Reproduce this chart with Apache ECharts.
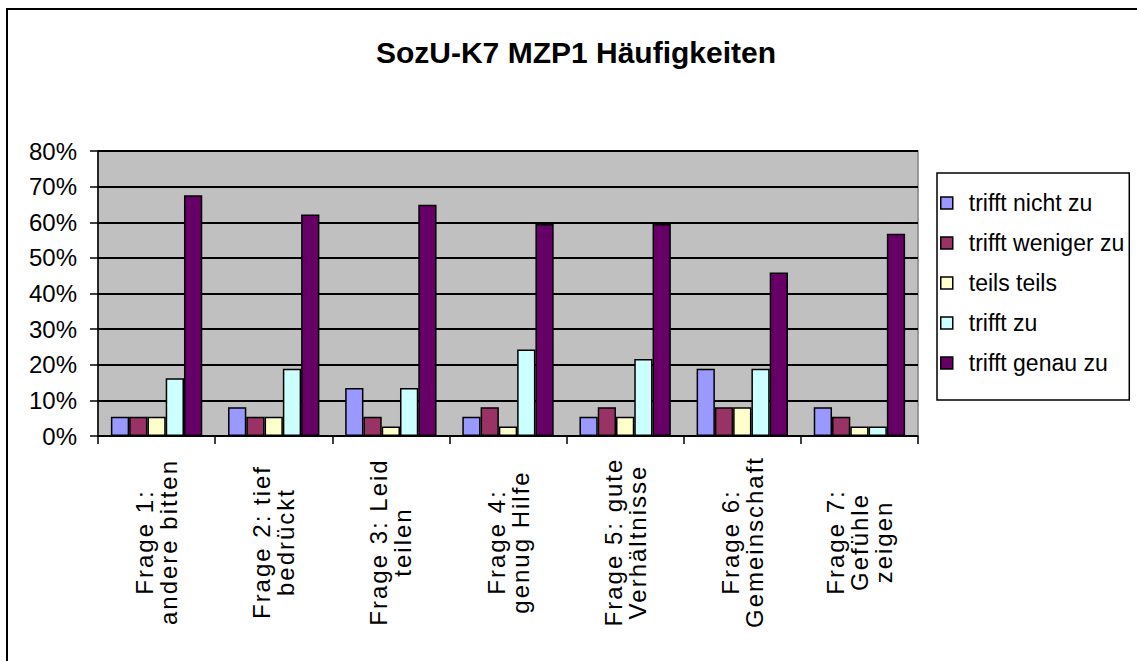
<!DOCTYPE html>
<html>
<head>
<meta charset="utf-8">
<script src="https://cdn.jsdelivr.net/npm/echarts@6/dist/echarts.min.js"></script>
<style>
  html, body { margin: 0; padding: 0; background: #fff; }
  #chart { width: 1137px; height: 661px; }
  #chart text[style*="Arimo"] { letter-spacing: 2px; }
</style>
</head>
<body>
<div id="chart"></div>
<script>
// ---- data (percent values) ----
const categories = [
  'Frage 1:\nandere bitten',
  'Frage 2: tief\nbedrückt',
  'Frage 3: Leid\nteilen',
  'Frage 4:\ngenug Hilfe',
  'Frage 5: gute\nVerhältnisse',
  'Frage 6:\nGemeinschaft',
  'Frage 7:\nGefühle\nzeigen'
];
const seriesNames = ['trifft nicht zu', 'trifft weniger zu', 'teils teils', 'trifft zu', 'trifft genau zu'];
const trifftNichtZu   = [5.4, 8.1, 13.5, 5.4, 5.4, 18.9, 8.1];
const trifftWenigerZu = [5.4, 5.4, 5.4, 8.1, 8.1, 8.1, 5.4];
const teilsTeils      = [5.4, 5.4, 2.7, 2.7, 5.4, 8.1, 2.7];
const trifftZu        = [16.2, 18.9, 13.5, 24.3, 21.6, 18.9, 2.7];
const trifftGenauZu   = [67.6, 62.2, 64.9, 59.5, 59.5, 45.9, 56.8];
const yTicks = [0, 10, 20, 30, 40, 50, 60, 70, 80];

const seriesValues = [trifftNichtZu, trifftWenigerZu, teilsTeils, trifftZu, trifftGenauZu];
const colors = ['#9999FF', '#993366', '#FFFFCC', '#CCFFFF', '#660066'];

const chart = echarts.init(document.getElementById('chart'), null, { renderer: 'svg' });

const option = {
  animation: false,
  backgroundColor: '#ffffff',
  title: {
    text: 'SozU-K7 MZP1 Häufigkeiten',
    left: 571,
    textAlign: 'center',
    top: 32,
    textStyle: { fontFamily: 'Liberation Sans', fontWeight: 'bold', fontSize: 30, color: '#000' }
  },
  legend: {
    orient: 'vertical',
    left: 937,
    top: 173,
    padding: [18, 5, 25, 3],
    borderColor: '#000',
    borderWidth: 1.5,
    itemWidth: 12,
    itemHeight: 12,
    itemGap: 16,
    icon: 'rect',
    itemStyle: { borderColor: '#000', borderWidth: 1.5 },
    textStyle: { fontFamily: 'Liberation Sans', fontSize: 23, lineHeight: 24, color: '#000', padding: [0, 0, 0, 11] },
    data: seriesNames
  },
  grid: {
    left: 98, right: 219, top: 151, bottom: 225,
    show: true,
    backgroundColor: '#C0C0C0',
    borderColor: '#808080',
    borderWidth: 1.5
  },
  xAxis: {
    type: 'category',
    data: categories,
    axisLine: { lineStyle: { color: '#000', width: 1.5 } },
    axisTick: { show: true, length: 8, lineStyle: { color: '#000', width: 1.5 } },
    axisLabel: {
      interval: 0,
      rotate: 90,
      align: 'center',
      verticalAlign: 'middle',
      margin: 106,
      fontFamily: 'Liberation Sans, Arimo, Arial',
      fontSize: 24,
      lineHeight: 24,
      color: '#000'
    }
  },
  yAxis: {
    type: 'value',
    min: yTicks[0],
    max: yTicks[yTicks.length - 1],
    interval: yTicks[1] - yTicks[0],
    axisLine: { show: true, lineStyle: { color: '#000', width: 1.5 } },
    axisTick: { show: true, length: 8, lineStyle: { color: '#000', width: 1.5 } },
    splitLine: { lineStyle: { color: '#000', width: 1.8 } },
    axisLabel: {
      margin: 21,
      fontFamily: 'Liberation Sans',
      fontSize: 24,
      color: '#000',
      formatter: v => v + '%'
    }
  },
  graphic: [{
    type: 'rect',
    z: -10,
    silent: true,
    shape: { x: 7, y: 9, width: 1300, height: 800 },
    style: { fill: 'none', stroke: '#000', lineWidth: 2 }
  }],
  series: seriesNames.map((name, i) => ({
    name: name,
    type: 'bar',
    data: seriesValues[i],
    barGap: '0%',
    barCategoryGap: '22%',
    itemStyle: { color: colors[i], borderColor: '#000', borderWidth: 1.5 }
  }))
};
chart.setOption(option);
</script>
</body>
</html>
